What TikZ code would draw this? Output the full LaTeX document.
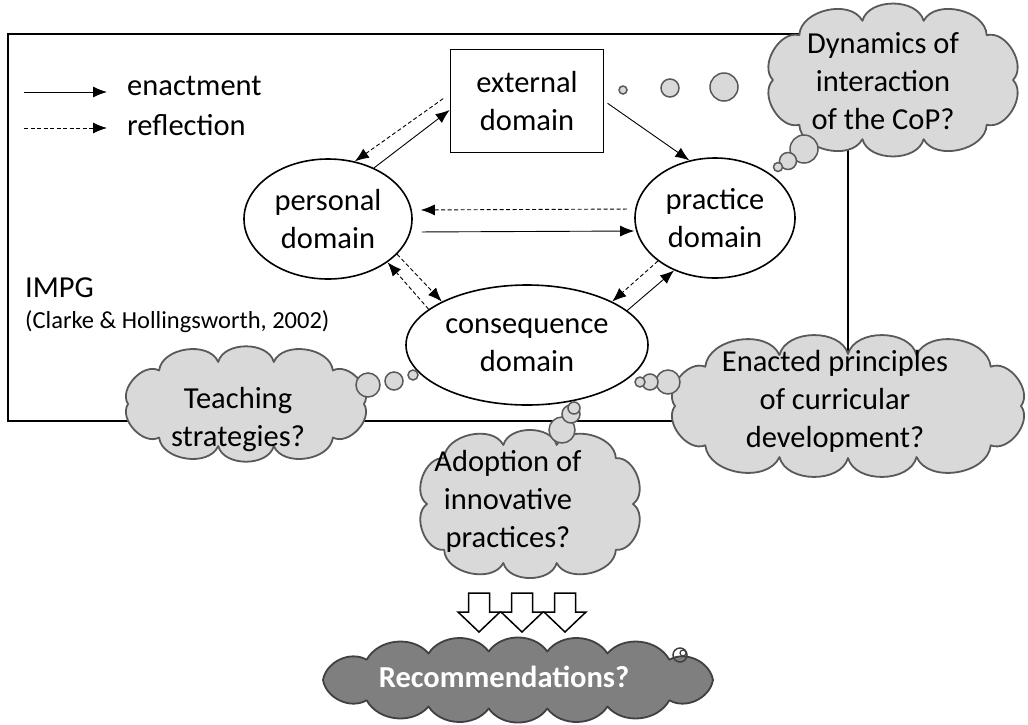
\documentclass[tikz,border=0pt]{standalone}
\usepackage{fontspec}
\setmainfont{Carlito}
\usetikzlibrary{arrows.meta,shapes.geometric}

\definecolor{cloudfill}{HTML}{D9D9D9}
\definecolor{cloudline}{HTML}{595959}
\definecolor{recfill}{HTML}{7F7F7F}
\definecolor{recline}{HTML}{404040}

\newcommand{\domainfont}{\fontsize{30.5pt}{38pt}\selectfont}
\newcommand{\citefont}{\fontsize{24.5pt}{30pt}\selectfont}

% cloud outline: style, centre x, centre y, x radius, y radius, bend, boxiness, angles of the notches
\newcommand{\drawcloud}[8]{%
  \draw[#1] ({#2+#4},#3) \foreach \ang in {#8}{
    to[bend left=#6] ({#2+(1+#7*sin(2*\ang)*sin(2*\ang))*#4*cos(\ang)},{#3+(1+#7*sin(2*\ang)*sin(2*\ang))*#5*sin(\ang)}) } -- cycle;}

\tikzset{
  domainbox/.style={draw, line width=1.6pt, inner sep=2pt, align=center},
  domainellipse/.style={ellipse, draw, line width=1.6pt, inner sep=1pt, align=center},
  enact/.style={-{Latex[length=14pt,width=11pt]}, line width=0.9pt},
  reflect/.style={enact, dash pattern=on 4pt off 2.5pt},
  thought/.style={draw=cloudline, fill=cloudfill, line width=1.8pt, line join=round},
  cloudtext/.style={align=center, inner sep=0pt},
  bubble/.style={draw=cloudline, fill=cloudfill, line width=1.5pt}
}

\begin{document}
\begin{tikzpicture}[x=1pt, y=-1pt, font=\domainfont]
\useasboundingbox (0,0) rectangle (1028,724);

% Frame of the model
\draw[line width=1.6pt] (8,34) rectangle (848,421);

% Legend
\coordinate (enactStart) at (24,92);
\coordinate (enactEnd) at (107,92);
\coordinate (reflectStart) at (24,128);
\coordinate (reflectEnd) at (107,128);
\draw[enact] (enactStart) -- (enactEnd);
\draw[reflect] (reflectStart) -- (reflectEnd);
\node[anchor=base west, inner sep=0pt] (enactLabel) at (127,95) {enactment};
\node[anchor=base west, inner sep=0pt] (reflectLabel) at (127,135) {reflection};

% Model name
\node[anchor=base west, inner sep=0pt] (impg) at (25,297) {IMPG};
\node[anchor=base west, inner sep=0pt, font=\citefont] (impgCite) at (25,328) {(Clarke \& Hollingsworth, 2002)};

% Domains
\node[domainbox, minimum width=153pt, minimum height=103pt] (external) at (527,101) {external\\domain};
\node[domainellipse, minimum width=168pt, minimum height=120pt] (personal) at (328,219) {personal\\domain};
\node[domainellipse, minimum width=160pt, minimum height=120pt] (practice) at (715,218) {practice\\domain};
\node[domainellipse, minimum width=242pt, minimum height=120pt] (consequence) at (527,345) {consequence\\domain};

% Enactment and reflection
\draw[enact] (personal.48) -- ([yshift=-9pt]external.west);
\draw[reflect, shorten <=8pt] ([yshift=7pt]external.west) -- (personal.65);
\draw[enact, shorten <=4pt] (external.east) -- (practice.114);
\draw[reflect, shorten <=7pt, shorten >=8pt] ([yshift=9pt]practice.west) -- ([yshift=9pt]personal.east);
\draw[enact, shorten <=9pt] ([yshift=-13pt]personal.east) -- ([yshift=-13pt]practice.west);
\draw[reflect] (consequence.160) -- (personal.-36);
\draw[reflect] (personal.-27) -- (consequence.153);
\draw[reflect] (practice.217) -- (consequence.27);
\draw[enact] (consequence.19) -- (practice.232);

% Thought clouds
\drawcloud{thought}{893}{80}{120}{60}{75}{0.08}{43.7,75.5,104.5,136.3,180,223.7,255.5,284.5,316.3,360}
\node[cloudtext] (dynamics) at (883,81) {Dynamics of\\interaction\\of the CoP?};
\drawcloud{thought}{246}{404}{118}{42.5}{75}{0.08}{47,76.6,103.4,133,180,227,256.6,283.4,313,360}
\node[cloudtext] (teaching) at (238,420) {Teaching\\strategies?};
\drawcloud{thought}{848}{406}{173}{52}{75}{0.12}{42.5,68,90,112,137.5,180,222.5,248,270,292,317.5,360}
\node[cloudtext] (enacted) at (835,401) {Enacted principles\\of curricular\\development?};
\drawcloud{thought}{530}{504}{103}{59}{75}{0.14}{43,75.5,104.5,137,180,223,255.5,284.5,317,360}
\node[cloudtext] (adoption) at (508,501) {Adoption of\\innovative\\practices?};

% Bubbles
\foreach \bx/\by/\br in {623/90/4, 670/88/9, 724/87/14, 804/149/14, 788/161/8.5, 778/167/4.5,
  368/385/12, 394/381/9, 413/375/5, 668/382/12, 650/382/8, 640/382/5,
  562/430/13, 571/414/9, 574/408/6}
  \draw[bubble] (\bx,\by) circle[radius=\br];

% Hollow arrows
\foreach \ax in {479,522,565}
  \draw[line width=1.5pt, fill=white] ({\ax-10.5},593) -- ({\ax+10.5},593) -- ({\ax+10.5},612)
    -- ({\ax+21},612) -- (\ax,632) -- ({\ax-21},612) -- ({\ax-10.5},612) -- cycle;

% Recommendations
\drawcloud{thought, fill=recfill, draw=recline}{518}{680}{195}{28.7}{55}{0.05}{42.3,63.6,81.4,98.6,116.4,137.7,180,222.3,243.6,261.4,278.6,296.4,317.7,360}
\node[cloudtext, text=white, font=\domainfont\bfseries] (rec) at (504,677) {Recommendations?};
\draw[recline, line width=1.5pt] (680,655) circle[radius=7];
\draw[recline, line width=1.2pt] (683,653) circle[radius=3];
\end{tikzpicture}
\end{document}
